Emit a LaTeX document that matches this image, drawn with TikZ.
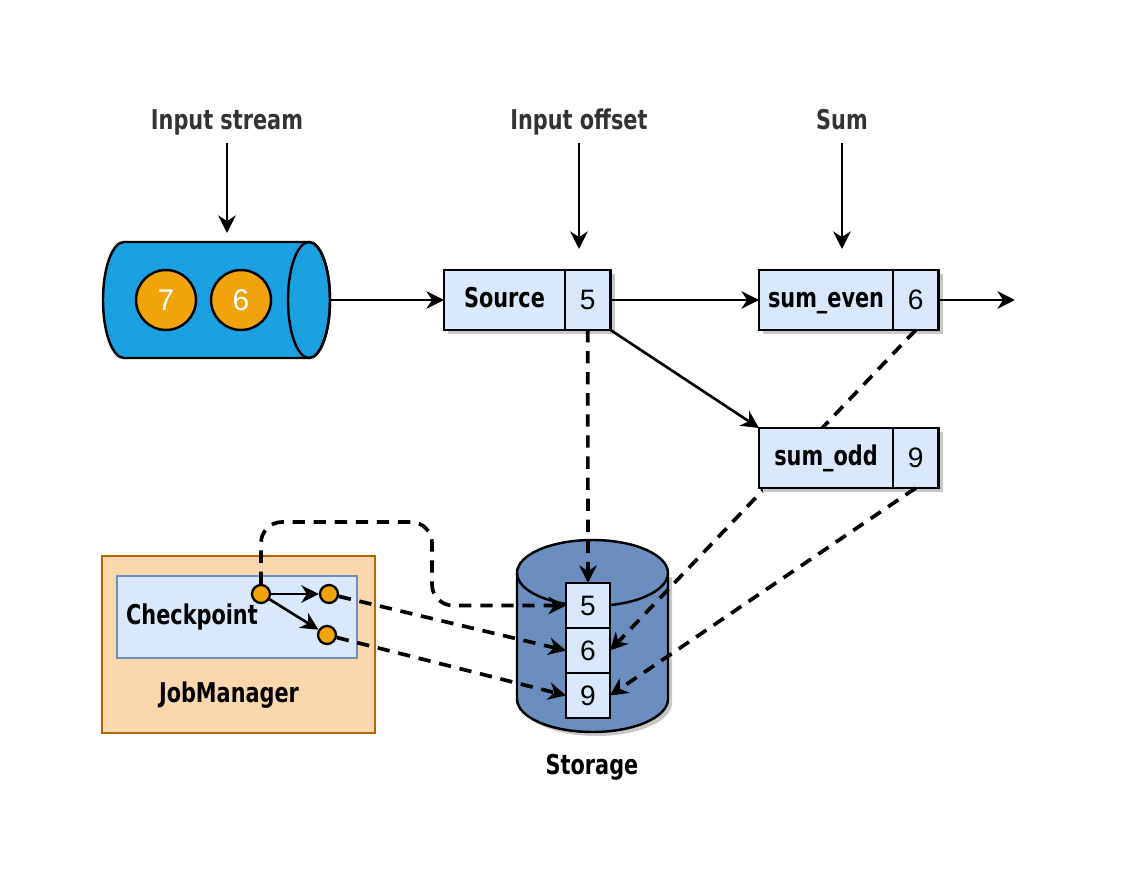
\documentclass[tikz,border=0pt]{standalone}
\usepackage{fontspec}
\setmainfont{Liberation Sans}
\newfontfamily\headfont[FakeStretch=0.85]{DejaVu Sans Condensed}
\usetikzlibrary{arrows.meta,positioning,shadows}

\definecolor{streamblue}{HTML}{1BA1E2}
\definecolor{ballorange}{HTML}{F0A30A}
\definecolor{cellblue}{HTML}{DAE8FC}
\definecolor{cellline}{HTML}{6C8EBF}
\definecolor{storeblue}{HTML}{6C8EBF}
\definecolor{jmfill}{HTML}{FAD7AC}
\definecolor{jmline}{HTML}{B46504}
\definecolor{headgray}{HTML}{333333}

\tikzset{
  head/.style={font=\headfont\bfseries\fontsize{15.5}{18}\selectfont, text=headgray, text depth=4pt},
  boxlabel/.style={font=\headfont\bfseries\fontsize{15.5}{18}\selectfont},
  shade box/.style={drop shadow={shadow xshift=2.5pt, shadow yshift=-2.5pt, fill=black!22, opacity=1}},
  namecell/.style={draw, line width=1.4pt, outer sep=0pt, fill=cellblue, minimum height=1.2cm, inner sep=0pt, text height=11pt, text depth=3pt, boxlabel, shade box},
  valcell/.style={draw, line width=1.4pt, outer sep=0pt, fill=cellblue, minimum height=1.2cm, minimum width=0.91cm, inner sep=0pt, font=\fontsize{16}{18}\selectfont, shade box},
  storecell/.style={draw, line width=1.4pt, outer sep=0pt, fill=cellblue, minimum height=0.9cm, minimum width=0.88cm, inner sep=0pt, font=\fontsize{16}{18}\selectfont},
  ball/.style={circle, draw, line width=1.4pt, fill=ballorange, minimum size=1.2cm, inner sep=0pt, text=white, font=\fontsize{17}{18}\selectfont},
  dot/.style={circle, draw, line width=1.3pt, fill=ballorange, minimum size=0.36cm, inner sep=0pt},
  flow/.style={->, line width=1.5pt},
  save/.style={->, line width=2.1pt, dash pattern=on 7pt off 5pt}
}

\begin{document}
\begin{tikzpicture}[x=0.02cm, y=0.02cm, >={Stealth[length=10pt,width=10pt,inset=3.2pt]}]
	\useasboundingbox (0,0) rectangle (1127,-892);

	% titles
	\node[head] (tstream) at (227,-123) {Input stream};
	\node[head] (toffset) at (579,-123) {Input offset};
	\node[head] (tsum) at (842,-123) {Sum};
	\coordinate (pstream) at (227,-233);
	\coordinate (poffset) at (579,-249);
	\coordinate (psum) at (842,-249);
	\draw[flow] (tstream) -- (pstream);
	\draw[flow] (toffset) -- (poffset);
	\draw[flow] (tsum) -- (psum);

	% input stream
	\node[minimum width=4.54cm, minimum height=2.32cm] (stream) at (216.5,-300) {};
	\filldraw[fill=streamblue, line width=1.4pt] (124,-242) -- (309,-242) arc[start angle=90, end angle=-90, x radius=21, y radius=58] -- (124,-358) arc[start angle=270, end angle=90, x radius=21, y radius=58] -- cycle;
	\draw[line width=1.4pt] (309,-300) ellipse[x radius=21, y radius=58];
	\node[ball] (b7) at (166,-300) {7};
	\node[ball] (b6) at (241,-300) {6};

	% storage
	\fill[black!22] (521,-577) -- (521,-703) arc[start angle=180, end angle=360, x radius=75.5, y radius=33] -- (672,-577) -- cycle;
	\filldraw[fill=storeblue, line width=1.4pt] (517,-573) -- (517,-699) arc[start angle=180, end angle=360, x radius=75.5, y radius=33] -- (668,-573) arc[start angle=0, end angle=180, x radius=75.5, y radius=33] -- cycle;
	\draw[line width=1.4pt] (517,-573) arc[start angle=180, end angle=360, x radius=75.5, y radius=33];
	\node[storecell] (s5) at (588,-605.5) {5};
	\node[storecell, below=0pt of s5] (s6) {6};
	\node[storecell, below=0pt of s6] (s9) {9};
	\node[head, text=black] (tstore) at (592,-768) {Storage};

	% operators
	\node[namecell, minimum width=2.42cm] (src) at (504.5,-300) {Source};
	\node[valcell, right=0pt of src] (srcv) {5};
	\node[namecell, minimum width=2.68cm] (even) at (826,-300) {sum\_even};
	\node[valcell, right=0pt of even] (evenv) {6};
	\coordinate (out) at (1015,-300);

	\draw[save] (evenv.south) -- (s6.east);

	\node[namecell, minimum width=2.68cm] (odd) at (826,-458) {sum\_odd};
	\node[valcell, right=0pt of odd] (oddv) {9};

	\draw[flow] (stream.east) -- (src);
	\draw[flow] (srcv) -- (even);
	\draw[flow] (evenv) -- (out);
	\draw[flow] (srcv.south east) -- (odd.north west);

	\draw[save] (srcv.south) -- (s5.north);
	\draw[save] (oddv.south) -- (s9.east);

	% job manager
	\node[draw=jmline, fill=jmfill, line width=1.4pt, minimum width=5.46cm, minimum height=3.54cm] (jm) at (238.5,-644.5) {};
	\node[draw=cellline, fill=cellblue, line width=1.4pt, minimum width=4.8cm, minimum height=1.64cm] (ckpt) at (237,-617) {};
	\node[boxlabel] (tckpt) at (192,-617) {Checkpoint};
	\node[boxlabel] (tjm) at (229,-695) {JobManager};

	\node[dot] (c1) at (261,-594) {};
	\node[dot] (c2) at (329,-594) {};
	\node[dot] (c3) at (327,-635) {};
	\draw[flow] (c1) -- (c2);
	\draw[flow] (c1) -- (c3);

	\draw[save, rounded corners=12] (c1.north) |- (432,-522) |- (s5.west);
	\draw[save] (c2) -- (s6.west);
	\draw[save] (c3) -- (s9.west);
\end{tikzpicture}
\end{document}
